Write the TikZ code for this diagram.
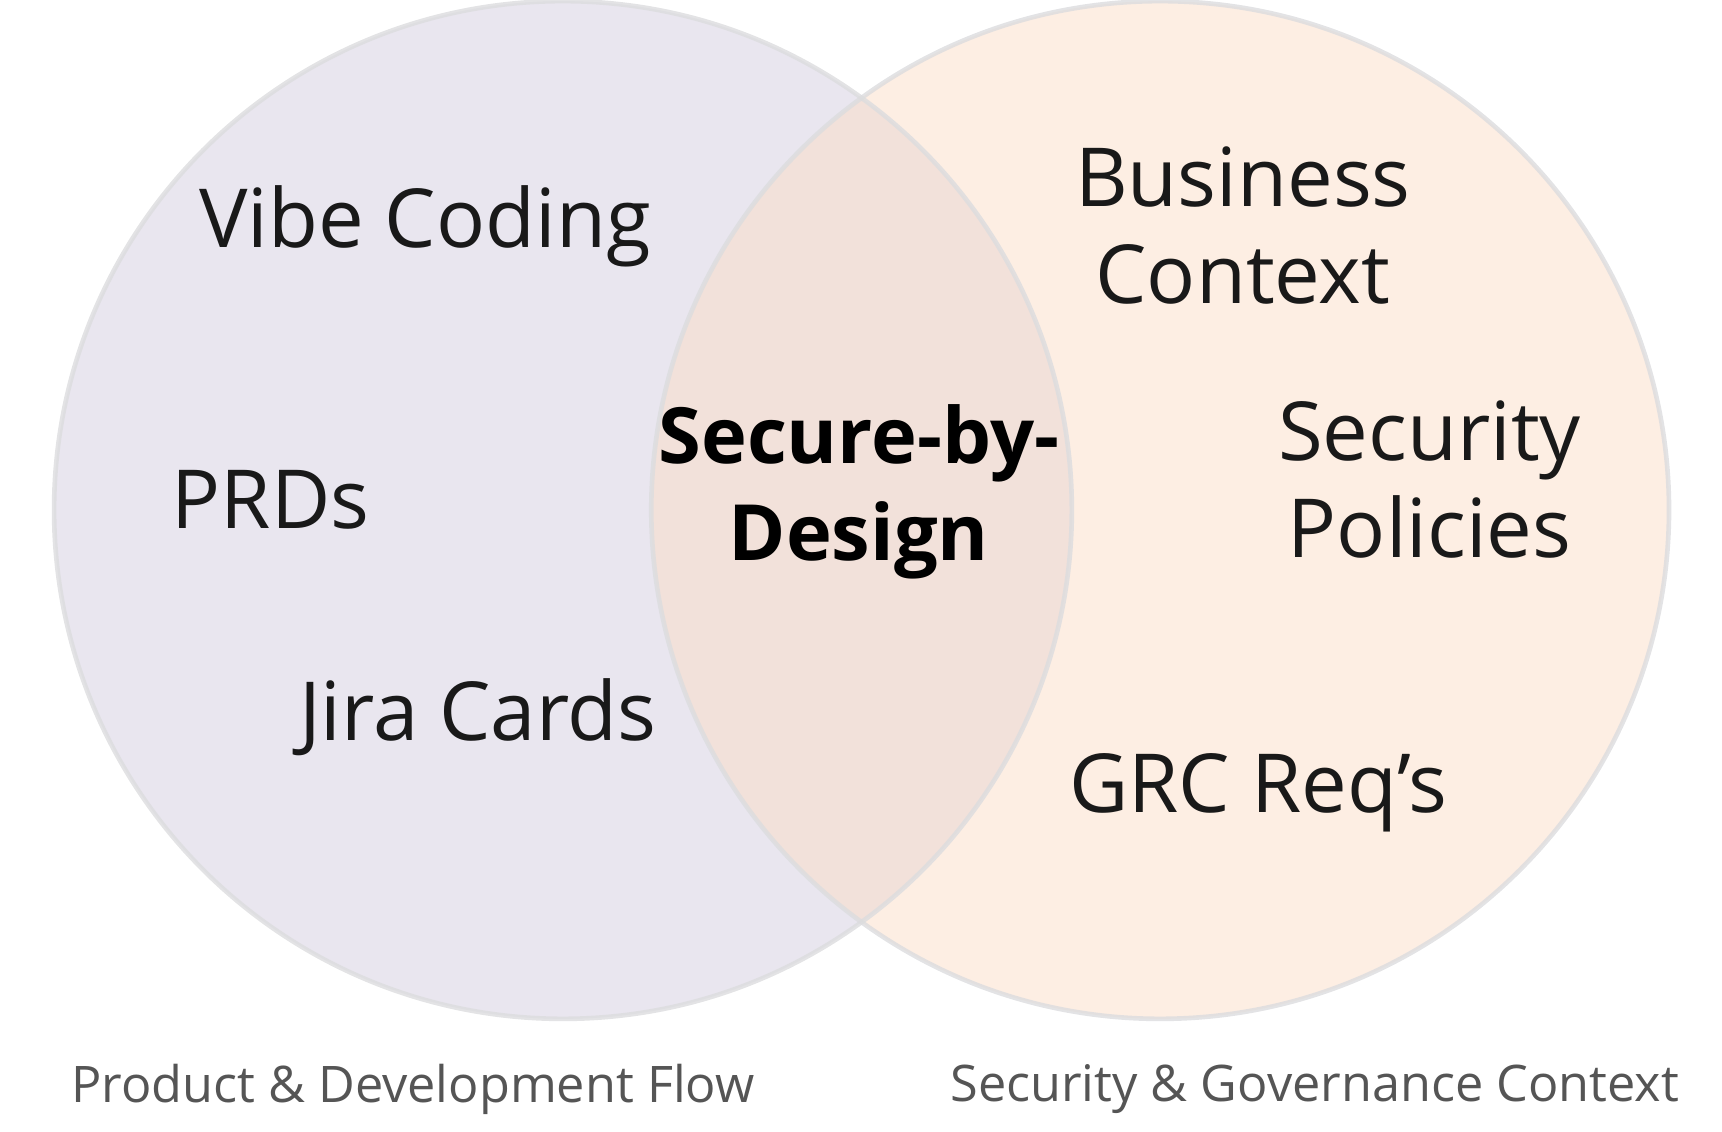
\documentclass[tikz,border=0pt]{standalone}
\usepackage{fontspec}
\setmainfont{Open Sans}
\definecolor{lav}{RGB}{233,230,239}
\definecolor{peach}{RGB}{251,221,199}
\definecolor{rim}{RGB}{220,220,222}
\definecolor{lbl}{RGB}{85,85,85}
\begin{document}
\begin{tikzpicture}[x=0.02cm,y=-0.02cm,
  item/.style={font=\fontsize{42}{50}\selectfont,align=center,text=black!90},
  core/.style={font=\fontsize{40}{50}\selectfont\bfseries,align=center},
  captext/.style={font=\fontsize{26}{30}\selectfont,text=lbl}]
\useasboundingbox (0,0) rectangle (1560,1025);
\fill[lav] (510,462) circle (461);
\fill[peach,opacity=0.5] (1051,462) circle (461);
\draw[rim,line width=2.4pt,opacity=0.8] (510,462) circle (461);
\draw[rim,line width=2.4pt,opacity=0.8] (1051,462) circle (461);
\node[item] (vibe) at (385,205) {Vibe Coding};
\node[item] (prd) at (245,453) {PRDs};
\node[item] (jira) at (433,650) {Jira Cards};
\node[item] (biz) at (1126,204) {Business\\Context};
\node[item] (sec) at (1295,434) {Security\\Policies};
\node[item] (grc) at (1140,718) {GRC Req’s};
\node[core] (sbd) at (778,446) {Secure-by-\\Design};
\node[captext] (l1) at (374,987) {Product \& Development Flow};
\node[captext] (l2) at (1191,987) {Security \& Governance Context};
\end{tikzpicture}
\end{document}
